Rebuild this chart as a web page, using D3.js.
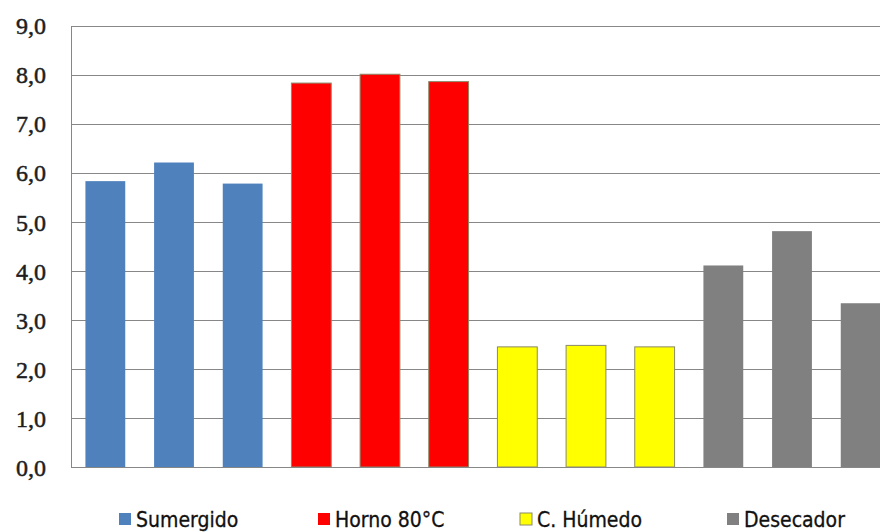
<!DOCTYPE html>
<html><head><meta charset="utf-8">
<script src="https://cdn.jsdelivr.net/npm/d3@7"></script>
<style>html,body{margin:0;padding:0;background:#fff;overflow:hidden}</style>
</head><body><svg id="c" width="880" height="532"></svg>
<script>
const categories = ["S1","S2","S3","H1","H2","H3","C1","C2","C3","D1","D2","D3"];
const groups = ["Sumergido","Sumergido","Sumergido","Horno 80°C","Horno 80°C","Horno 80°C","C. Húmedo","C. Húmedo","C. Húmedo","Desecador","Desecador","Desecador"];
const values = [5.83, 6.21, 5.78, 7.83, 8.01, 7.86, 2.45, 2.48, 2.45, 4.11, 4.81, 3.34];
const seriesNames = ["Sumergido","Horno 80°C","C. Húmedo","Desecador"];
const seriesColors = ["#4F81BD","#FF0000","#FFFF00","#808080"];
const yTicks = [0,1,2,3,4,5,6,7,8,9];

const svg = d3.select("#c");
const L = 71, R = 895, T = 25.7, B = 467;
const x = d3.scaleBand().domain(categories).range([L, R]).paddingInner(0.42).paddingOuter(0.21);
const y = d3.scaleLinear().domain([0, 9]).range([B, T]);
const color = d3.scaleOrdinal().domain(seriesNames).range(seriesColors);

// gridlines
svg.append("g").selectAll("line").data(yTicks.filter(d=>d>0)).join("line")
  .attr("x1", L).attr("x2", 880).attr("y1", d=>Math.round(y(d))+0.5).attr("y2", d=>Math.round(y(d))+0.5)
  .attr("stroke", "#878787").attr("stroke-width", 1);

// bars
svg.append("g").selectAll("rect").data(values).join("rect")
  .attr("x", (d,i)=>x(categories[i]))
  .attr("width", x.bandwidth())
  .attr("y", d=>y(d))
  .attr("height", d=>B - y(d))
  .attr("fill", (d,i)=>color(groups[i]))
  .attr("stroke", (d,i)=> (groups[i]==="C. Húmedo"||groups[i]==="Horno 80°C") ? "#8a8a6a" : "none")
  .attr("stroke-width", 1);

// axes
const yAxis = d3.axisLeft(y).tickValues(yTicks).tickSize(0).tickPadding(25)
  .tickFormat(d=>d3.format(".1f")(d).replace(".", ","));
const ga = svg.append("g").attr("transform", `translate(${L},0)`).call(yAxis);
ga.select(".domain").attr("stroke", "#878787");
ga.selectAll("text").attr("font-family", "'Liberation Serif', 'DejaVu Serif', serif")
  .attr("font-size", 24).attr("fill", "#1e1e1e").attr("stroke", "#1e1e1e").attr("stroke-width", 0.5)
  .attr("dy", "0.34em");
svg.append("line").attr("x1", L).attr("x2", 880).attr("y1", B+0.5).attr("y2", B+0.5).attr("stroke", "#878787");

// legend
const legX = [119, 318, 520, 727];
const lg = svg.append("g").selectAll("g").data(seriesNames).join("g")
  .attr("transform", (d,i)=>`translate(${legX[i]},513)`);
lg.append("rect").attr("width", 12).attr("height", 12)
  .attr("fill", d=>color(d))
  .attr("stroke", d=> d==="C. Húmedo" ? "#8a8a6a" : "none");
lg.append("text").attr("x", 17).attr("y", 6).attr("dy", "0.36em")
  .attr("font-family", "'DejaVu Sans Condensed', 'Liberation Sans Narrow', sans-serif")
  .attr("font-stretch", "condensed")
  .attr("font-size", 21).attr("fill", "#111").attr("stroke", "#111").attr("stroke-width", 0.3).text(d=>d);
</script></body></html>
